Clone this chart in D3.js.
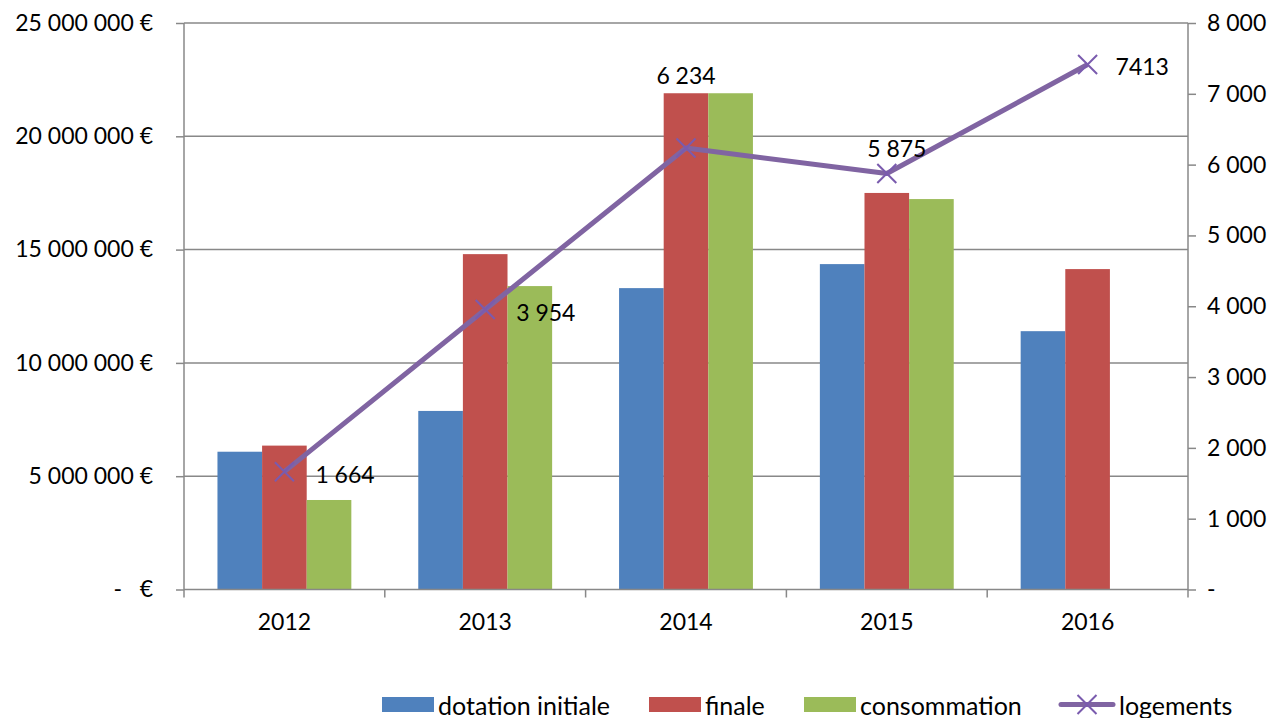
<!DOCTYPE html>
<html>
<head>
<meta charset="utf-8">
<script src="https://cdn.jsdelivr.net/npm/d3@7"></script>
<style>
  body { margin: 0; background: #fff; }
  text { font-family: Lato, "Liberation Sans", sans-serif; fill: #000; }
</style>
</head>
<body>
<div id="chart"></div>
<script>
// Data
const years = ['2012', '2013', '2014', '2015', '2016'];
const seriesNames = ['dotation initiale', 'finale', 'consommation'];
const dotationInitiale = [6080000, 7880000, 13300000, 14360000, 11400000];
const finale = [6350000, 14800000, 21900000, 17500000, 14140000];
const consommation = [3950000, 13390000, 21900000, 17230000, null];
const logements = [1664, 3954, 6234, 5875, 7413];
const logementLabels = ['1 664', '3 954', '6 234', '5 875', '7413'];
const leftTicks = [0, 5000000, 10000000, 15000000, 20000000, 25000000];
const rightTicks = [0, 1000, 2000, 3000, 4000, 5000, 6000, 7000, 8000];

const WIDTH = 1284, HEIGHT = 718;
const MARGIN = { left: 184, right: 96, top: 23, bottom: 128.5 };
const COLORS = ['#4F81BD', '#C0504D', '#9BBB59'];
const LINE_COLOR = '#8064A2';
const GRID_COLOR = '#888888';
// label offsets for the line data labels (dx, dy, anchor)
const LABEL_LAYOUT = [
    { dx: 31, dy: 2, anchor: 'start' },
    { dx: 31, dy: 2, anchor: 'start' },
    { dx: 0, dy: -73, anchor: 'middle' },
    { dx: 10, dy: -25, anchor: 'middle' },
    { dx: 28, dy: 1, anchor: 'start' }
];
const LEGEND_X = [382, 649, 804, 1059];

const series = [dotationInitiale, finale, consommation];
const rows = years.map((y, i) => ({
    year: y,
    values: series.map((s, k) => ({ key: seriesNames[k], k, v: s[i] }))
}));

const svg = d3.select('#chart').append('svg')
    .attr('width', WIDTH)
    .attr('height', HEIGHT);

const plotW = WIDTH - MARGIN.left - MARGIN.right;
const plotH = HEIGHT - MARGIN.top - MARGIN.bottom;

const g = svg.append('g')
    .attr('transform', `translate(${MARGIN.left}, ${MARGIN.top})`);

const x0 = d3.scaleBand().domain(years).range([0, plotW]);
const barW = x0.bandwidth() / 4.5;
const x1 = d3.scaleBand().domain(seriesNames).range([0, barW * 3]);
const groupOffset = (x0.bandwidth() - barW * 3) / 2;

const yLeft = d3.scaleLinear().domain([0, 25000000]).range([plotH, 0]);
const yRight = d3.scaleLinear().domain([0, 8000]).range([plotH, 0]);

const spaced = d3.format(',');
const fmtLeft = d => d === 0 ? '-   €' : spaced(d).replace(/,/g, ' ') + ' €';
const fmtRight = d => d === 0 ? '-' : spaced(d).replace(/,/g, ' ');

// Gridlines
g.append('g')
    .selectAll('line')
    .data(leftTicks.filter(d => d > 0))
    .join('line')
    .attr('x1', 0)
    .attr('x2', plotW)
    .attr('y1', d => yLeft(d))
    .attr('y2', d => yLeft(d))
    .attr('stroke', GRID_COLOR)
    .attr('stroke-width', 1.5);

// Bars
g.append('g')
    .selectAll('g')
    .data(rows)
    .join('g')
    .attr('transform', d => `translate(${x0(d.year) + groupOffset}, 0)`)
    .selectAll('rect')
    .data(d => d.values.filter(v => v.v != null))
    .join('rect')
    .attr('x', d => x1(d.key))
    .attr('y', d => yLeft(d.v))
    .attr('width', x1.bandwidth())
    .attr('height', d => plotH - yLeft(d.v))
    .attr('fill', d => COLORS[d.k]);

// Left axis
const leftAxis = g.append('g')
    .call(d3.axisLeft(yLeft).tickValues(leftTicks).tickSize(8).tickPadding(23).tickFormat(fmtLeft));
leftAxis.select('.domain').remove();
leftAxis.selectAll('line').attr('stroke', GRID_COLOR).attr('stroke-width', 1.5);
leftAxis.selectAll('text').style('font-size', '23px').style('white-space', 'pre').attr('fill', '#000');

// Right axis
const rightAxis = g.append('g')
    .attr('transform', `translate(${plotW}, 0)`)
    .call(d3.axisRight(yRight).tickValues(rightTicks).tickSize(8).tickPadding(11).tickFormat(fmtRight));
rightAxis.select('.domain').remove();
rightAxis.selectAll('line').attr('stroke', GRID_COLOR).attr('stroke-width', 1.5);
rightAxis.selectAll('text').style('font-size', '23px').attr('fill', '#000');

// Axis lines
g.append('line')
    .attr('x1', 0).attr('x2', 0).attr('y1', 0).attr('y2', plotH + 8)
    .attr('stroke', GRID_COLOR).attr('stroke-width', 1.5);
g.append('line')
    .attr('x1', plotW).attr('x2', plotW).attr('y1', 0).attr('y2', plotH + 8)
    .attr('stroke', GRID_COLOR).attr('stroke-width', 1.5);
g.append('line')
    .attr('x1', 0).attr('x2', plotW).attr('y1', plotH).attr('y2', plotH)
    .attr('stroke', GRID_COLOR).attr('stroke-width', 1.5);

// Category boundary ticks
g.append('g')
    .selectAll('line')
    .data(years.slice(1))
    .join('line')
    .attr('x1', d => x0(d)).attr('x2', d => x0(d))
    .attr('y1', plotH).attr('y2', plotH + 8)
    .attr('stroke', GRID_COLOR).attr('stroke-width', 1.5);

// Bottom axis labels
const bottomAxis = g.append('g')
    .attr('transform', `translate(0, ${plotH})`)
    .call(d3.axisBottom(x0).tickSize(0).tickPadding(24));
bottomAxis.select('.domain').remove();
bottomAxis.selectAll('text').style('font-size', '23px').attr('fill', '#000');

// Line series
const lineGen = d3.line()
    .x((d, i) => x0(years[i]) + x0.bandwidth() / 2)
    .y(d => yRight(d));

g.append('path')
    .datum(logements)
    .attr('d', lineGen)
    .attr('fill', 'none')
    .attr('stroke', LINE_COLOR)
    .attr('stroke-width', 5)
    .attr('stroke-linejoin', 'round');

const M = 9.5;
g.append('g')
    .selectAll('path')
    .data(logements)
    .join('path')
    .attr('transform', (d, i) => `translate(${x0(years[i]) + x0.bandwidth() / 2}, ${yRight(d)})`)
    .attr('d', `M${-M},${-M}L${M},${M}M${-M},${M}L${M},${-M}`)
    .attr('stroke', '#7A5BAE')
    .attr('stroke-width', 2)
    .attr('fill', 'none');

// Line data labels
g.append('g')
    .selectAll('text')
    .data(logements)
    .join('text')
    .attr('x', (d, i) => x0(years[i]) + x0.bandwidth() / 2 + LABEL_LAYOUT[i].dx)
    .attr('y', (d, i) => yRight(d) + LABEL_LAYOUT[i].dy)
    .attr('text-anchor', (d, i) => LABEL_LAYOUT[i].anchor)
    .attr('dominant-baseline', 'central')
    .style('font-size', '23px')
    .text((d, i) => logementLabels[i]);

// Legend
const legendY = 704.5;
const legend = svg.append('g');
seriesNames.forEach((name, k) => {
    legend.append('rect')
        .attr('x', LEGEND_X[k])
        .attr('y', legendY - 7.5)
        .attr('width', 52)
        .attr('height', 15)
        .attr('fill', COLORS[k]);
    legend.append('text')
        .attr('x', LEGEND_X[k] + 56)
        .attr('y', legendY)
        .attr('dominant-baseline', 'central')
        .style('font-size', '25px')
        .text(name);
});
const lx = LEGEND_X[3];
legend.append('line')
    .attr('x1', lx + 2).attr('x2', lx + 54)
    .attr('y1', legendY).attr('y2', legendY)
    .attr('stroke', LINE_COLOR).attr('stroke-width', 5).attr('stroke-linecap', 'round');
legend.append('path')
    .attr('transform', `translate(${lx + 28}, ${legendY})`)
    .attr('d', `M${-M},${-M}L${M},${M}M${-M},${M}L${M},${-M}`)
    .attr('stroke', '#7A5BAE').attr('stroke-width', 2).attr('fill', 'none');
legend.append('text')
    .attr('x', lx + 60)
    .attr('y', legendY)
    .attr('dominant-baseline', 'central')
    .style('font-size', '25px')
    .text('logements');
</script>
</body>
</html>
